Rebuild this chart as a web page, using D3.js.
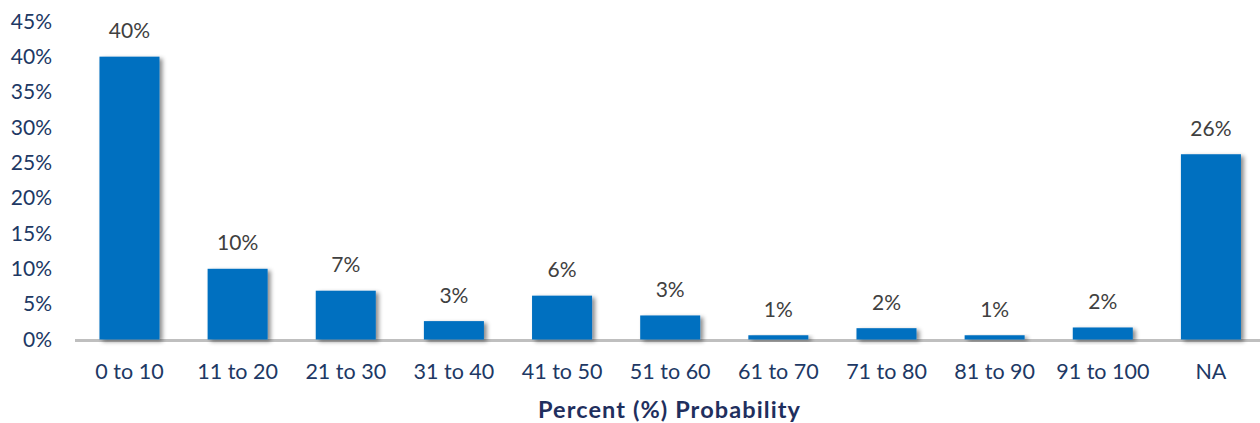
<!DOCTYPE html>
<html>
<head>
<meta charset="utf-8">
<script src="https://cdn.jsdelivr.net/npm/d3@7"></script>
<style>
  html, body { margin: 0; padding: 0; background: #ffffff; }
  svg { display: block; }
  text { font-family: Lato, "Open Sans", sans-serif; }
</style>
</head>
<body>
<svg id="chart" width="1260" height="423"></svg>
<script>
// Share of responses by stated probability range (percent)
const categories = ["0 to 10", "11 to 20", "21 to 30", "31 to 40", "41 to 50", "51 to 60",
                    "61 to 70", "71 to 80", "81 to 90", "91 to 100", "NA"];
const shares = [40, 10, 6.9, 2.6, 6.2, 3.4, 0.6, 1.6, 0.6, 1.7, 26.2];
const yTicks = [0, 5, 10, 15, 20, 25, 30, 35, 40, 45];
const axisTitle = "Percent (%) Probability";

const svg = d3.select("#chart");
const W = 1260;

const x = d3.scaleBand()
  .domain(categories)
  .range([75.4, 1265])
  .paddingInner(0.445)
  .paddingOuter(0.2225);

const y = d3.scaleLinear()
  .domain([0, 45])
  .range([339.5, 21.3]);

// Soft shadow under the bars
const defs = svg.append("defs");
const f = defs.append("filter").attr("id", "barShadow")
  .attr("x", "-20%").attr("y", "-20%").attr("width", "160%").attr("height", "160%");
f.append("feDropShadow")
  .attr("dx", 3).attr("dy", 2).attr("stdDeviation", 2.2)
  .attr("flood-color", "#000").attr("flood-opacity", 0.45);

// Y axis labels (no line, no ticks)
const yAxis = d3.axisLeft(y)
  .tickValues(yTicks)
  .tickFormat(d => d + "%")
  .tickSize(0)
  .tickPadding(0);
const yg = svg.append("g").attr("transform", "translate(52,0)").call(yAxis);
yg.select(".domain").remove();
yg.selectAll("text")
  .attr("fill", "#203864")
  .style("font-size", "21px")
  .style("font-family", "Lato, sans-serif");

// Baseline
svg.append("line")
  .attr("x1", 75).attr("x2", W)
  .attr("y1", y(0) + 1).attr("y2", y(0) + 1)
  .attr("stroke", "#BFBFBF").attr("stroke-width", 3);

// Bars
svg.append("g").selectAll("rect")
  .data(categories)
  .join("rect")
  .attr("x", d => x(d))
  .attr("width", x.bandwidth())
  .attr("y", (d, i) => y(shares[i]))
  .attr("height", (d, i) => y(0) - y(shares[i]))
  .attr("fill", "#0070C0")
  .attr("filter", "url(#barShadow)");

// Value labels
svg.append("g").selectAll("text")
  .data(categories)
  .join("text")
  .attr("x", d => x(d) + x.bandwidth() / 2)
  .attr("y", (d, i) => y(shares[i]) - 18.5)
  .attr("text-anchor", "middle")
  .attr("fill", "#404040")
  .style("font-size", "21px")
  .text((d, i) => Math.round(shares[i]) + "%");

// X axis category labels
const xAxis = d3.axisBottom(x).tickSize(0).tickPadding(0);
const xg = svg.append("g").attr("transform", "translate(0,379)").call(xAxis);
xg.select(".domain").remove();
xg.selectAll("text")
  .attr("dy", 0)
  .attr("fill", "#203864")
  .style("font-size", "21.5px")
  .style("font-family", "Lato, sans-serif");

// Axis title
svg.append("text")
  .attr("x", 669.5)
  .attr("y", 418)
  .attr("text-anchor", "middle")
  .attr("fill", "#1F2F5E")
  .style("font-size", "23.5px")
  .style("letter-spacing", "1.1px")
  .style("font-weight", "bold")
  .text(axisTitle);
</script>
</body>
</html>
